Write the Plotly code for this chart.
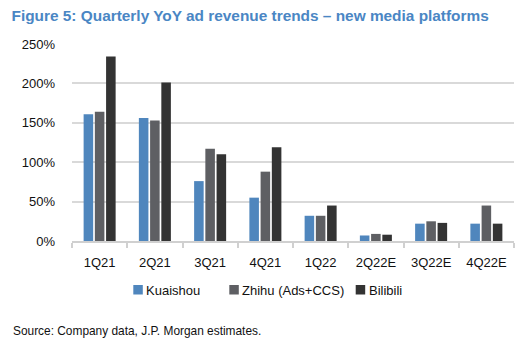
import plotly.graph_objects as go

quarters = ["1Q21", "2Q21", "3Q21", "4Q21", "1Q22", "2Q22E", "3Q22E", "4Q22E"]
kuaishou = [161, 156, 76, 55, 32, 7, 22, 22]
zhihu = [164, 153, 117, 88, 32, 9, 25, 45]
bilibili = [234, 201, 110, 119, 45, 8, 23, 22]
y_ticks = [0, 50, 100, 150, 200, 250]
y_tick_labels = ["0%", "50%", "100%", "150%", "200%", "250%"]

series_names = ["Kuaishou", "Zhihu (Ads+CCS)", "Bilibili"]
series_colors = ["#4F86BD", "#5E5F63", "#333333"]
series_values = [kuaishou, zhihu, bilibili]

W, H = 522, 352
L, R, T, B = 72, 8, 44, 111
font_family = "Liberation Sans, Arial, sans-serif"

fig = go.Figure()
for name, vals, col in zip(series_names, series_values, series_colors):
    fig.add_trace(go.Bar(x=quarters, y=vals, name=name, showlegend=False,
                         marker=dict(color=col, line=dict(width=0))))

def px_to_paper_x(px):
    return (px - L) / (W - L - R)

def px_to_paper_y(py):
    return (H - B - py) / (H - T - B)

# custom legend (square swatch tight against label)
legend_starts = [133.3, 229.3, 355.7]
shapes, annotations = [], []
for name, col, x0 in zip(series_names, series_colors, legend_starts):
    shapes.append(dict(type="rect", xref="paper", yref="paper",
                       x0=px_to_paper_x(x0), x1=px_to_paper_x(x0 + 9.5),
                       y0=px_to_paper_y(294.5), y1=px_to_paper_y(285),
                       fillcolor=col, line=dict(width=0)))
    annotations.append(dict(text=name, xref="paper", yref="paper",
                            x=px_to_paper_x(x0 + 11), y=px_to_paper_y(290),
                            xanchor="left", yanchor="middle", showarrow=False,
                            font=dict(family=font_family, size=13, color="#111111")))

annotations.append(dict(text="Source: Company data, J.P. Morgan estimates.",
                        xref="paper", yref="paper", x=px_to_paper_x(11), y=px_to_paper_y(331),
                        xanchor="left", yanchor="middle", showarrow=False,
                        font=dict(family=font_family, size=11.9, color="#111111")))

fig.update_layout(
    width=W, height=H,
    margin=dict(l=L, r=R, t=T, b=B),
    paper_bgcolor="white", plot_bgcolor="white",
    barmode="group", bargap=0.39, bargroupgap=0.15,
    font=dict(family=font_family, size=13, color="#111111"),
    title=dict(text="<b>Figure 5: Quarterly YoY ad revenue trends – new media platforms</b>",
               x=11.5 / W, xanchor="left", xref="container",
               y=1 - 15.5 / H, yanchor="middle", yref="container",
               font=dict(family=font_family, size=15.4, color="#4A86C4")),
    showlegend=False,
    xaxis=dict(showgrid=False, showline=True, linecolor="#D0D0D0", linewidth=1.5,
               ticks="outside", tickson="boundaries", ticklen=5, tickcolor="#D0D0D0",
               tickwidth=1.5, tickfont=dict(size=13, color="#111111"), ticklabelstandoff=9),
    yaxis=dict(range=[0, 250], tickvals=y_ticks, ticktext=y_tick_labels,
               showgrid=True, gridcolor="#D9D9D9", gridwidth=1.5, zeroline=False,
               showline=False, ticks="", tickfont=dict(size=13, color="#111111"),
               ticklabelstandoff=16),
    shapes=shapes,
    annotations=annotations,
)

fig.write_html("out.html")
